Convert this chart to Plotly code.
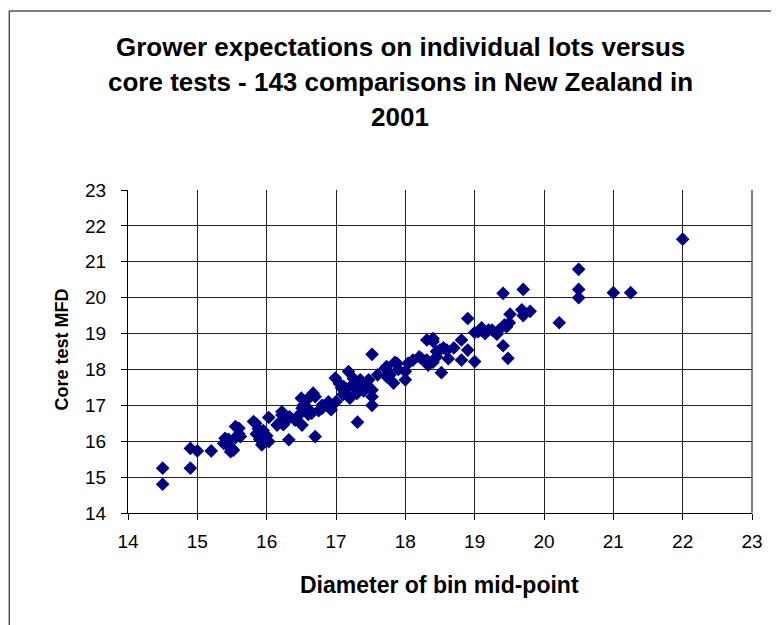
import plotly.graph_objects as go

# Diameter of bin mid-point (grower expectation) and core test MFD
diameter = [
    14.5, 14.5, 14.9, 14.9, 15.0, 15.2, 15.38, 15.4, 15.45, 15.45,
    15.48, 15.5, 15.55, 15.6, 15.52, 15.6, 15.62, 15.81, 15.84, 15.88,
    15.9, 15.93, 15.98, 16.0, 16.03, 16.03, 16.2, 16.22, 16.22, 16.24,
    16.32, 16.33, 16.41, 16.51, 16.51, 16.53, 16.5, 16.58, 16.6, 16.65,
    16.67, 16.7, 16.7, 16.8, 16.8, 16.89, 16.93, 16.99, 17.08, 17.11,
    17.18, 17.23, 17.28, 17.32, 17.3, 17.35, 17.4, 17.47, 17.52, 17.52,
    17.52, 17.52, 17.31, 17.71, 17.73, 17.73, 17.78, 17.83, 17.85, 17.88,
    18.0, 18.0, 18.04, 18.11, 18.2, 18.23, 18.31, 18.31, 18.33, 18.4,
    18.4, 18.4, 18.45, 18.5, 18.52, 18.55, 18.6, 18.62, 18.81, 18.81,
    18.9, 18.9, 19.0, 19.0, 19.09, 19.1, 19.2, 19.25, 19.32, 19.41,
    19.48, 19.43, 19.46, 19.51, 19.5, 19.68, 19.7, 19.8, 19.41, 19.7,
    20.22, 20.5, 20.5, 20.5, 21.0, 21.25, 22.0, 17.1, 17.2, 17.15,
    17.25, 17.4, 17.45, 16.9, 17.0, 16.75, 16.6, 16.45, 16.3, 16.15,
    15.95, 15.85, 15.55, 15.42, 17.6, 17.9, 18.3, 18.45, 18.7, 19.05,
    19.15, 19.35, 17.05,
]
core_mfd = [
    15.25, 14.8, 15.8, 15.25, 15.73, 15.73, 15.94, 16.08, 15.85, 16.05,
    15.71, 15.8, 16.41, 16.2, 15.75, 16.36, 16.13, 16.55, 16.5, 16.35,
    16.05, 15.9, 16.13, 16.15, 16.66, 15.99, 16.55, 16.73, 16.82, 16.46,
    16.04, 16.68, 16.59, 16.45, 16.92, 17.0, 17.2, 17.15, 16.9, 16.78,
    17.34, 17.24, 16.13, 16.92, 17.0, 17.1, 16.88, 17.76, 17.48, 17.52,
    17.94, 17.56, 17.57, 17.38, 17.33, 17.71, 17.4, 17.71, 17.43, 17.24,
    17.0, 18.42, 16.53, 18.03, 17.8, 18.08, 17.85, 17.62, 18.2, 18.17,
    17.94, 17.71, 18.17, 18.26, 18.35, 18.31, 18.82, 18.26, 18.12, 18.86,
    18.78, 18.2, 18.5, 18.55, 17.91, 18.6, 18.54, 18.3, 18.82, 18.26,
    18.54, 19.42, 18.22, 19.03, 19.1, 19.16, 19.1, 19.1, 18.98, 18.66,
    18.31, 19.24, 19.19, 19.54, 19.3, 19.66, 19.5, 19.62, 20.12, 20.23,
    19.3, 20.79, 20.23, 20.0, 20.14, 20.14, 21.63, 17.3, 17.2, 17.45,
    17.75, 17.6, 17.55, 16.95, 17.1, 16.85, 16.75, 16.7, 16.6, 16.45,
    16.3, 16.2, 16.1, 15.98, 17.85, 18.0, 18.25, 18.35, 18.6, 19.05,
    19.0, 19.1, 17.6,
]

title_lines = [
    "Grower expectations on individual lots versus",
    "core tests - 143 comparisons in New Zealand in",
    "2001",
]
x_title = "Diameter of bin mid-point"
y_title = "Core test MFD"
tick_vals = list(range(14, 24))

FONT = "Arial, Liberation Sans, sans-serif"
OFF = 8  # page body margin: figure starts 8px in from the page corner
W, H = 779 - OFF, 625 - OFF
L, R, T, B = 127.5 - OFF, 26.5, 190 - OFF, 112
PW, PH = W - L - R, H - T - B


def px_to_paper_x(px):
    return (px - OFF - L) / PW


def py_to_paper_y(py):
    return (H - B - (py - OFF)) / PH


fig = go.Figure()
fig.add_trace(go.Scatter(
    x=diameter, y=core_mfd, mode="markers",
    marker=dict(symbol="diamond", size=10.5, color="#000080",
                line=dict(width=0)),
    showlegend=False, hoverinfo="x+y",
))

axis_common = dict(
    tickmode="array", tickvals=tick_vals,
    showgrid=True, gridcolor="#222222", gridwidth=1.2,
    showline=True, linecolor="#000000", linewidth=1,
    ticks="outside", ticklen=6, tickcolor="#000000", tickwidth=1,
    tickfont=dict(family=FONT, size=19, color="#000000"),
    zeroline=False, range=[14, 23], fixedrange=True,
)

fig.update_layout(
    width=W, height=H,
    margin=dict(l=L, r=R, t=T, b=B, autoexpand=False),
    paper_bgcolor="#ffffff", plot_bgcolor="#ffffff",
    xaxis=dict(**axis_common, ticklabelstandoff=5),
    yaxis=dict(**axis_common, ticklabelstandoff=11),
    font=dict(family=FONT, color="#000000"),
)

annotations = []
for i, line in enumerate(title_lines):
    annotations.append(dict(
        text=f"<b>{line}</b>", xref="paper", yref="paper",
        x=px_to_paper_x(400), y=py_to_paper_y(47 + 35 * i),
        xanchor="center", yanchor="middle", showarrow=False,
        font=dict(family=FONT, size=26, color="#000000"),
    ))
annotations.append(dict(
    text=f"<b>{x_title}</b>", xref="paper", yref="paper",
    x=px_to_paper_x(439), y=py_to_paper_y(585),
    xanchor="center", yanchor="middle", showarrow=False,
    font=dict(family=FONT, size=23, color="#000000"),
))
annotations.append(dict(
    text=f"<b>{y_title}</b>", xref="paper", yref="paper",
    x=px_to_paper_x(61), y=py_to_paper_y(350),
    xanchor="center", yanchor="middle", showarrow=False, textangle=-90,
    font=dict(family=FONT, size=18, color="#000000"),
))
fig.update_layout(annotations=annotations)

shapes = [
    # outer chart frame (extends beyond the visible page on right/bottom)
    dict(type="rect", xref="paper", yref="paper",
         x0=px_to_paper_x(8.5), x1=px_to_paper_x(800),
         y0=py_to_paper_y(660), y1=py_to_paper_y(11),
         line=dict(color="#000000", width=1), fillcolor="rgba(0,0,0,0)",
         layer="below"),
    # grey plot-area border on the right
    dict(type="line", xref="paper", yref="paper", x0=1, x1=1, y0=0, y1=1,
         line=dict(color="#808080", width=2), layer="below"),
]
fig.update_layout(shapes=shapes)

fig.write_html("out.html")
